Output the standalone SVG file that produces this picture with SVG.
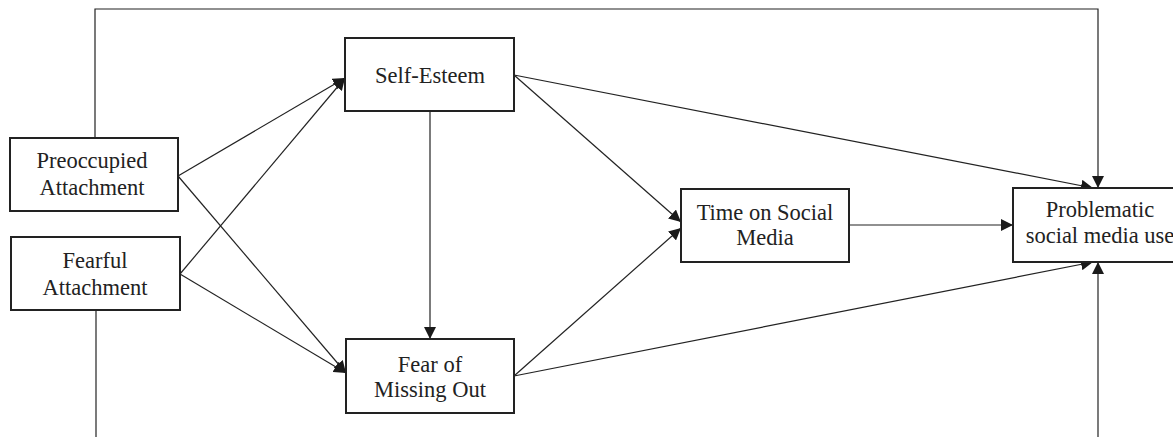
<svg xmlns="http://www.w3.org/2000/svg" width="1173" height="437" viewBox="0 0 1173 437">
<defs>
<marker id="ah" viewBox="0 0 10 10" refX="10" refY="5" markerWidth="12" markerHeight="12" markerUnits="userSpaceOnUse" orient="auto">
<path d="M0,0 L10,5 L0,10 z" fill="#1a1a1a"/>
</marker>
<style>
.box{fill:#fff;stroke:#222;stroke-width:2}
.lbl{font-family:"Liberation Serif","Times New Roman",serif;font-size:22.5px;fill:#222;text-anchor:middle}
.c{fill:none;stroke:#222;stroke-width:1.2}
.a{fill:none;stroke:#222;stroke-width:1.2;marker-end:url(#ah)}
</style>
</defs>
<rect width="1173" height="437" fill="#fff"/>
<g id="connectors">
<polyline class="a" points="95,138 95,9 1098,9 1098,188"/>
<line class="c" x1="96" y1="310" x2="96" y2="437"/>
<line class="a" x1="1098" y1="437" x2="1098" y2="262"/>
<line class="a" x1="178" y1="176" x2="345" y2="78"/>
<line class="a" x1="180" y1="274" x2="345" y2="78"/>
<line class="a" x1="178" y1="176" x2="346" y2="373"/>
<line class="a" x1="180" y1="274" x2="346" y2="373"/>
<line class="a" x1="430" y1="111" x2="430" y2="339"/>
<line class="a" x1="514" y1="75" x2="681" y2="222"/>
<line class="a" x1="514" y1="376" x2="681" y2="228"/>
<line class="a" x1="514" y1="75" x2="1093" y2="188"/>
<line class="a" x1="514" y1="376" x2="1093" y2="262"/>
<line class="a" x1="849" y1="225" x2="1013" y2="225"/>
</g>
<g id="preoccupied">
<rect class="box" x="10" y="138" width="168" height="73"/>
<text class="lbl" x="92" y="168">Preoccupied</text>
<text class="lbl" x="92" y="195">Attachment</text>
</g>
<g id="fearful">
<rect class="box" x="11" y="237" width="169" height="73"/>
<text class="lbl" x="95" y="268">Fearful</text>
<text class="lbl" x="95" y="295">Attachment</text>
</g>
<g id="selfesteem">
<rect class="box" x="345" y="38" width="169" height="73"/>
<text class="lbl" x="430" y="83">Self-Esteem</text>
</g>
<g id="fomo">
<rect class="box" x="346" y="339" width="168" height="74"/>
<text class="lbl" x="430" y="372">Fear of</text>
<text class="lbl" x="430" y="397">Missing Out</text>
</g>
<g id="time">
<rect class="box" x="681" y="189" width="168" height="73"/>
<text class="lbl" x="765" y="220">Time on Social</text>
<text class="lbl" x="765" y="245">Media</text>
</g>
<g id="problematic">
<rect class="box" x="1013" y="188" width="175" height="74"/>
<text class="lbl" x="1100" y="217">Problematic</text>
<text class="lbl" x="1100" y="243">social media use</text>
</g>
</svg>
